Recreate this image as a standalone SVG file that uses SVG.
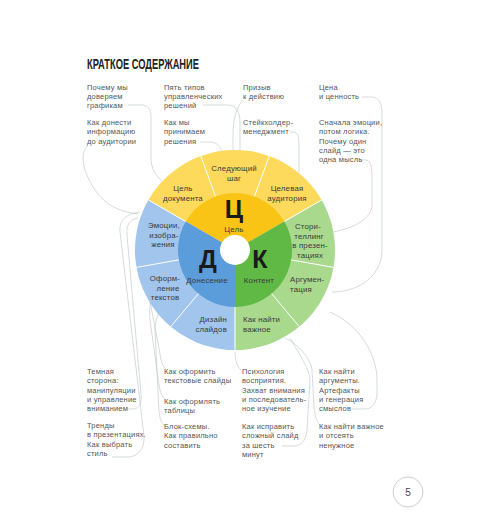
<svg xmlns="http://www.w3.org/2000/svg" width="500" height="532" viewBox="0 0 500 532">
<style>
.t{font-family:"Liberation Sans",Arial,sans-serif;font-size:7.5px;fill:#555;letter-spacing:0.2px}
.w{font-family:"Liberation Sans",Arial,sans-serif;font-size:7.8px;fill:#3a3a3a;text-anchor:middle;letter-spacing:0.2px}
.s{text-anchor:start}
.e{text-anchor:end}
.big{font-family:"Liberation Sans",Arial,sans-serif;font-size:25px;font-weight:bold;fill:#1a1a1a;text-anchor:middle}
.c{fill:none;stroke:#b9c2c2;stroke-width:0.6}
.sep{stroke:#fff;stroke-width:1}
</style>
<rect width="500" height="532" fill="#fff"/>
<text x="87" y="69" font-family="Liberation Sans,Arial,sans-serif" font-size="14" font-weight="bold" fill="#222" textLength="112" lengthAdjust="spacingAndGlyphs">КРАТКОЕ СОДЕРЖАНИЕ</text>

<g id="connectors">
<path class="c" d="M128,105 H141 C148,105 151,109 151,116 V158 C151,168 155,175 162,181"/>
<path class="c" d="M87,146 C80,155 82,170 95,190 C105,205 120,212 138,214"/>
<path class="c" d="M203,105 H228 C236,105 240,112 240,122 V152"/>
<path class="c" d="M200,142 H210 C216,142 220,146 222,151"/>
<path class="c" d="M243,100 C236,108 233,120 233,135 V151"/>
<path class="c" d="M290,132 H293 C298,132 299,137 299,145 V173"/>
<path class="c" d="M362,97 H372 C378,97 382,103 382,112 V250 C382,275 360,292 332,292"/>
<path class="c" d="M360,160 H365 C371,160 372,168 372,175 V205 C372,218 355,228 333,232"/>
<path class="c" d="M128,409 H133 C140,409 142,402 141,394 L127,235 C126,225 130,219 138,218"/>
<path class="c" d="M112,457 H128 C138,457 145,448 144,436 L120,232 C119,222 124,214 140,212"/>
<path class="c" d="M166,369 C162,366 161,361 160,354 L152,312 C150,300 148,295 146,292"/>
<path class="c" d="M166,400 C162,397 160,392 159,385 L150,320 C149,310 150,303 152,300"/>
<path class="c" d="M165,426 C161,423 160,418 159,412 L155,330 C155,322 157,316 160,312"/>
<path class="c" d="M241,370 C237,366 235,360 235,352"/>
<path class="c" d="M282,446 H293 C302,446 306,440 307,430 L310,380 C310,370 300,355 290,338"/>
<path class="c" d="M352,409 H365 C373,409 377,402 377,392 V380 C377,355 360,325 330,312"/>
<path class="c" d="M320,425 C316,421 315,415 314,408 L312,370 C311,360 300,345 285,338"/>
</g>

<g id="wheel">
<g id="ring-c">
<path d="M235,250 L148.40,200 A100,100 0 0 1 321.60,200 Z" fill="#FDDA5C"/>
<path d="M235,250 L185.64,221.5 A57,57 0 0 1 284.36,221.5 Z" fill="#F9C416"/>
</g>
<g id="ring-k">
<path d="M235,250 L321.60,200 A100,100 0 0 1 235,350 Z" fill="#A8D98D"/>
<path d="M235,250 L284.36,221.5 A57,57 0 0 1 235,307 Z" fill="#60B944"/>
</g>
<g id="ring-d">
<path d="M235,250 L235,350 A100,100 0 0 1 148.40,200 Z" fill="#A1C5EC"/>
<path d="M235,250 L235,307 A57,57 0 0 1 185.64,221.5 Z" fill="#5B9CDB"/>
</g>
<g class="sep">
<line x1="215.51" y1="196.44" x2="200.80" y2="156.03"/>
<line x1="254.49" y1="196.44" x2="269.20" y2="156.03"/>
<line x1="284.36" y1="221.5" x2="321.60" y2="200"/>
<line x1="291.13" y1="259.90" x2="333.48" y2="267.36"/>
<line x1="271.64" y1="293.66" x2="299.28" y2="326.60"/>
<line x1="235" y1="307" x2="235" y2="350"/>
<line x1="198.36" y1="293.66" x2="170.72" y2="326.60"/>
<line x1="178.87" y1="259.90" x2="136.52" y2="267.36"/>
<line x1="185.64" y1="221.5" x2="148.40" y2="200"/>
</g>
<circle cx="235" cy="250" r="15" fill="#fff"/>
</g>

<g id="node-c">
<text class="big" x="234" y="218">Ц</text>
<text class="w" x="234" y="232">Цель</text>
</g>
<g id="node-d">
<text class="big" x="208" y="268">Д</text>
<text class="w" x="207" y="283">Донесение</text>
</g>
<g id="node-k">
<text class="big" x="260" y="268">К</text>
<text class="w" x="259" y="283">Контент</text>
</g>

<g id="seg-goal"><text class="w" x="183" y="191">Цель</text><text class="w" x="183" y="200.5">документа</text></g>
<g id="seg-next"><text class="w" x="234" y="171">Следующий</text><text class="w" x="234" y="181">шаг</text></g>
<g id="seg-aud"><text class="w" x="287" y="191">Целевая</text><text class="w" x="287" y="200.5">аудитория</text></g>
<g id="seg-story"><text class="w" x="308" y="229">Стори-</text><text class="w" x="309" y="238.5">теллинг</text><text class="w" x="310" y="248">в презен-</text><text class="w" x="310" y="257.5">тациях</text></g>
<g id="seg-arg"><text class="w s" x="290" y="282">Аргумен-</text><text class="w s" x="290" y="291.5">тация</text></g>
<g id="seg-imp"><text class="w s" x="243" y="322">Как найти</text><text class="w s" x="243" y="331.5">важное</text></g>
<g id="seg-design"><text class="w e" x="227" y="322">Дизайн</text><text class="w e" x="227" y="331.5">слайдов</text></g>
<g id="seg-text"><text class="w" x="165" y="281">Оформ-</text><text class="w" x="168" y="290.5">ление</text><text class="w" x="165" y="300">текстов</text></g>
<g id="seg-emo"><text class="w" x="164" y="228">Эмоции,</text><text class="w" x="164" y="237.5">изобра-</text><text class="w" x="163" y="247">жения</text></g>

<g id="top-1"><text class="t" x="87" y="89.5">Почему мы</text><text class="t" x="87" y="98.7">доверяем</text><text class="t" x="87" y="107.9">графикам</text></g>
<g id="top-2"><text class="t" x="87" y="125.2">Как донести</text><text class="t" x="87" y="134.4">информацию</text><text class="t" x="87" y="143.6">до аудитории</text></g>
<g id="top-3"><text class="t" x="164" y="89.5">Пять типов</text><text class="t" x="164" y="98.7">управленческих</text><text class="t" x="164" y="107.9">решений</text></g>
<g id="top-4"><text class="t" x="164" y="125.2">Как мы</text><text class="t" x="164" y="134.4">принимаем</text><text class="t" x="164" y="143.6">решения</text></g>
<g id="top-5"><text class="t" x="243" y="89.5">Призыв</text><text class="t" x="243" y="98.7">к действию</text></g>
<g id="top-6"><text class="t" x="243" y="125.2">Стейкхолдер-</text><text class="t" x="243" y="134.4">менеджмент</text></g>
<g id="top-7"><text class="t" x="319" y="89.5">Цена</text><text class="t" x="319" y="98.7">и ценность</text></g>
<g id="top-8"><text class="t" x="319" y="125.2">Сначала эмоции,</text><text class="t" x="319" y="134.4">потом логика.</text><text class="t" x="319" y="143.6">Почему один</text><text class="t" x="319" y="152.8">слайд — это</text><text class="t" x="319" y="162">одна мысль</text></g>

<g id="bot-1"><text class="t" x="87" y="374.2">Темная</text><text class="t" x="87" y="383.4">сторона:</text><text class="t" x="87" y="392.6">манипуляции</text><text class="t" x="87" y="401.8">и управление</text><text class="t" x="87" y="411">вниманием</text></g>
<g id="bot-2"><text class="t" x="87" y="428.2">Тренды</text><text class="t" x="87" y="437.4">в презентациях.</text><text class="t" x="87" y="446.6">Как выбрать</text><text class="t" x="87" y="455.8">стиль</text></g>
<g id="bot-3"><text class="t" x="164" y="374.2">Как оформить</text><text class="t" x="164" y="383.4">текстовые слайды</text></g>
<g id="bot-4"><text class="t" x="164" y="403.6">Как оформлять</text><text class="t" x="164" y="413">таблицы</text></g>
<g id="bot-5"><text class="t" x="164" y="429.2">Блок-схемы.</text><text class="t" x="164" y="438.4">Как правильно</text><text class="t" x="164" y="447.6">составить</text></g>
<g id="bot-6"><text class="t" x="242" y="374.2">Психология</text><text class="t" x="242" y="383.4">восприятия.</text><text class="t" x="242" y="392.6">Захват внимания</text><text class="t" x="242" y="401.8">и последователь-</text><text class="t" x="242" y="411">ное изучение</text></g>
<g id="bot-7"><text class="t" x="242" y="429.2">Как исправить</text><text class="t" x="242" y="438.4">сложный слайд</text><text class="t" x="242" y="447.6">за шесть</text><text class="t" x="242" y="456.8">минут</text></g>
<g id="bot-8"><text class="t" x="319" y="374.2">Как найти</text><text class="t" x="319" y="383.4">аргументы.</text><text class="t" x="319" y="392.6">Артефакты</text><text class="t" x="319" y="401.8">и генерация</text><text class="t" x="319" y="411">смыслов</text></g>
<g id="bot-9"><text class="t" x="319" y="429.2">Как найти важное</text><text class="t" x="319" y="438.4">и отсеять</text><text class="t" x="319" y="447.6">ненужное</text></g>

<g id="page"><circle cx="408" cy="492" r="15" fill="none" stroke="#bbb" stroke-width="0.7"/><text x="408" y="495.5" font-family="Liberation Sans,Arial,sans-serif" font-size="10" fill="#444" text-anchor="middle">5</text></g>
</svg>
